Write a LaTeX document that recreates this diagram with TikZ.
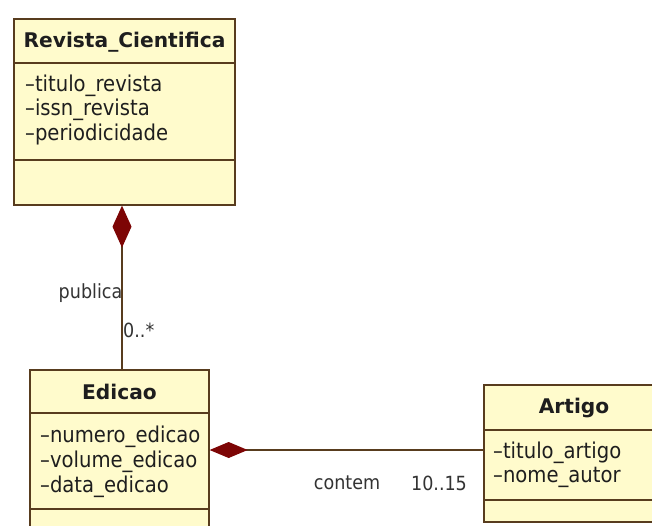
\documentclass[tikz,border=0pt]{standalone}
\usepackage{fontspec}
\setmainfont{DejaVu Sans}
\newfontfamily\rfont[FakeStretch=0.9]{DejaVu Sans}
\usetikzlibrary{arrows.meta}
\definecolor{boxfill}{RGB}{255,251,204}
\definecolor{boxline}{RGB}{88,60,30}
\definecolor{dred}{RGB}{125,5,5}
\definecolor{txt}{RGB}{30,30,30}
\tikzset{
  cls/.style={draw=boxline, fill=boxfill, line width=1.3pt, inner sep=0pt, rectangle},
  title/.style={font=\fontsize{20.2}{22}\selectfont\bfseries, text=txt, inner sep=0pt},
  attr/.style={font=\rfont\fontsize{21.8}{24}\selectfont, text=txt, anchor=west, inner sep=0pt},
  lbl/.style={font=\rfont\fontsize{19.5}{22}\selectfont, text=black!80, inner sep=0pt},
  divider/.style={draw=boxline, line width=1.3pt},
  conn/.style={draw=boxline, line width=1.2pt},
}
\begin{document}
\begin{tikzpicture}[x=1pt,y=-1pt]
\useasboundingbox (0,0) rectangle (652,525);
\fill[white] (0,0) rectangle (652,525);
\clip (0,0) rectangle (652,525);

% Revista_Cientifica
\node[cls, minimum width=221pt, minimum height=186pt] (rev) at (124.5,112) {};
\draw[divider] (rev.west |- 0,63) -- (rev.east |- 0,63);
\draw[divider] (rev.west |- 0,160) -- (rev.east |- 0,160);
\node[title] (revT) at (124.5,42) {Revista\_Cientifica};
\node[attr] (r1) at (25,86) {–titulo\_revista};
\node[attr] (r2) at (25,110) {–issn\_revista};
\node[attr] (r3) at (25,134) {–periodicidade};

% Edicao
\node[cls, minimum width=179pt, minimum height=180pt] (edi) at (119.5,460) {};
\draw[divider] (edi.west |- 0,413) -- (edi.east |- 0,413);
\draw[divider] (edi.west |- 0,509) -- (edi.east |- 0,509);
\node[title] (ediT) at (119.5,392) {Edicao};
\node[attr] (e1) at (40,437) {–numero\_edicao};
\node[attr] (e2) at (40,462) {–volume\_edicao};
\node[attr] (e3) at (40,487) {–data\_edicao};

% Artigo
\node[cls, minimum width=180pt, minimum height=137pt] (art) at (574,453.5) {};
\draw[divider] (art.west |- 0,430) -- (art.east |- 0,430);
\draw[divider] (art.west |- 0,500) -- (art.east |- 0,500);
\node[title] (artT) at (574,408) {Artigo};
\node[attr] (a1) at (493,453) {–titulo\_artigo};
\node[attr] (a2) at (493,477) {–nome\_autor};

% connectors
\draw[conn, {Diamond[length=42pt,width=19pt,color=dred,fill=dred]}-]
  ([xshift=-2.5pt]rev.south) -- ([xshift=2.5pt]edi.north);
\draw[conn, {Diamond[length=38pt,width=16pt,color=dred,fill=dred]}-]
  (edi.east |- 0,450) -- (art.west |- 0,450);

% labels
\node[lbl, anchor=east] (pub) at (122.5,293) {publica};
\node[lbl, anchor=west] (m1) at (123,330) {0..*};
\node[lbl] (cont) at (347,483) {contem};
\node[lbl] (m2) at (439,483) {10..15};
\end{tikzpicture}
\end{document}
